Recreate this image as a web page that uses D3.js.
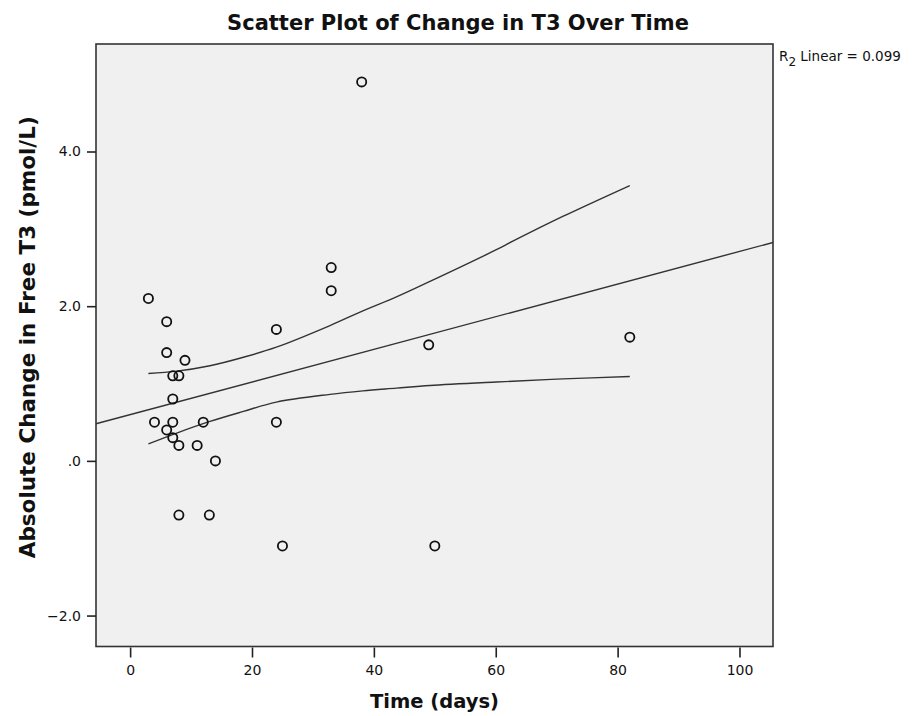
<!DOCTYPE html>
<html>
<head>
<meta charset="utf-8">
<script src="https://cdn.jsdelivr.net/npm/d3@7"></script>
<style>
  body { margin: 0; background: #fff; }
  svg { display: block; }
</style>
</head>
<body>
<div id="chart"></div>
<script>
// Days since treatment and change in free T3
const days = [3, 6, 6, 9, 7, 8, 7, 4, 7, 6, 7, 8, 12, 11, 14, 8, 13, 24, 24, 33, 33, 38, 25, 49, 50, 82];
const changeT3 = [2.1, 1.8, 1.4, 1.3, 1.1, 1.1, 0.8, 0.5, 0.5, 0.4, 0.3, 0.2, 0.5, 0.2, 0.0, -0.7, -0.7, 1.7, 0.5, 2.5, 2.2, 4.9, -1.1, 1.5, -1.1, 1.6];

// fit line (intercept, slope) and the 95% band, as seen in the chart
const fitLine = { intercept: 0.598, slope: 0.0211 };
const bandX = [3, 7.65, 13.1, 18.6, 24, 32.8, 38.2, 43.7, 49.2, 60.1, 62.8, 71, 82];
const upperBand = [1.13, 1.16, 1.23, 1.34, 1.47, 1.75, 1.94, 2.12, 2.32, 2.73, 2.84, 3.16, 3.56];
const lowerBand = [0.22, 0.36, 0.51, 0.64, 0.76, 0.86, 0.905, 0.94, 0.975, 1.02, 1.03, 1.06, 1.09];

const xTicks = [0, 20, 40, 60, 80, 100];
const yTicks = [-2, 0, 2, 4];
const rSquared = 0.099;

const width = 920, height = 716;
const box = { left: 96, top: 44, right: 773, bottom: 646.5 };

const svg = d3.select("#chart").append("svg")
    .attr("width", width)
    .attr("height", height);

const x = d3.scaleLinear().domain([-5.6, 105.5]).range([box.left, box.right]);
const y = d3.scaleLinear().domain([-2.40, 5.39]).range([box.bottom, box.top]);

svg.append("rect")
    .attr("x", box.left)
    .attr("y", box.top)
    .attr("width", box.right - box.left)
    .attr("height", box.bottom - box.top)
    .style("fill", "#f0f0f0");

const plot = svg.append("g");

// regression line over the whole x range
const fitPts = x.domain().map(d => [d, fitLine.intercept + fitLine.slope * d]);
plot.append("path")
    .attr("d", d3.line().x(d => x(d[0])).y(d => y(d[1]))(fitPts))
    .style("fill", "none")
    .style("stroke", "#333")
    .style("stroke-width", 1.4);

const bandLine = d3.line()
    .x(d => x(d[0]))
    .y(d => y(d[1]))
    .curve(d3.curveCatmullRom);

[upperBand, lowerBand].forEach(band => {
    plot.append("path")
        .attr("d", bandLine(bandX.map((d, i) => [d, band[i]])))
        .style("fill", "none")
        .style("stroke", "#333")
        .style("stroke-width", 1.4);
});

plot.selectAll("circle.pt")
    .data(days.map((d, i) => ({ day: d, change: changeT3[i] })))
    .enter().append("circle")
    .attr("class", "pt")
    .attr("cx", d => x(d.day))
    .attr("cy", d => y(d.change))
    .attr("r", 4.6)
    .style("fill", "none")
    .style("stroke", "#111")
    .style("stroke-width", 1.8);

// frame
svg.append("rect")
    .attr("x", box.left)
    .attr("y", box.top)
    .attr("width", box.right - box.left)
    .attr("height", box.bottom - box.top)
    .style("fill", "none")
    .style("stroke", "#333")
    .style("stroke-width", 1.6);

const fmtY = d => d3.format(".1f")(d).replace(/^(-?)0\./, "$1.");

const xAxis = svg.append("g")
    .attr("transform", `translate(0,${box.bottom + 1})`)
    .call(d3.axisBottom(x).tickValues(xTicks).tickSize(10).tickSizeOuter(0).tickPadding(8));
xAxis.select(".domain").remove();

const yAxis = svg.append("g")
    .attr("transform", `translate(${box.left},0)`)
    .call(d3.axisLeft(y).tickValues(yTicks).tickFormat(fmtY).tickSize(9).tickSizeOuter(0).tickPadding(6));
yAxis.select(".domain").remove();

svg.selectAll(".tick line").style("stroke", "#222").style("stroke-width", 1.6);
svg.selectAll(".tick text")
    .style("font-family", "'DejaVu Sans', sans-serif")
    .style("font-size", "14px")
    .style("fill", "#111");

svg.append("text")
    .attr("x", 458)
    .attr("y", 30)
    .attr("text-anchor", "middle")
    .style("font-family", "'DejaVu Sans', sans-serif")
    .style("font-weight", "bold")
    .style("font-size", "21px")
    .style("fill", "#111")
    .text("Scatter Plot of Change in T3 Over Time");

svg.append("text")
    .attr("x", (box.left + box.right) / 2)
    .attr("y", 708)
    .attr("text-anchor", "middle")
    .style("font-family", "'DejaVu Sans', sans-serif")
    .style("font-weight", "bold")
    .style("font-size", "19.5px")
    .style("fill", "#111")
    .text("Time (days)");

svg.append("text")
    .attr("transform", `translate(35,${(box.top + box.bottom) / 2 - 8}) rotate(-90)`)
    .attr("text-anchor", "middle")
    .style("font-family", "'DejaVu Sans', sans-serif")
    .style("font-weight", "bold")
    .style("font-size", "21.5px")
    .style("fill", "#111")
    .text("Absolute Change in Free T3 (pmol/L)");

const r2 = svg.append("text")
    .attr("x", 779)
    .attr("y", 61)
    .style("font-family", "'DejaVu Sans', sans-serif")
    .style("font-size", "13.5px")
    .style("fill", "#111");
r2.append("tspan").text("R");
r2.append("tspan").attr("dy", 5).style("font-size", "12px").text("2");
r2.append("tspan").attr("dy", -5).text(" Linear = " + d3.format(".3f")(rSquared));
</script>
</body>
</html>
